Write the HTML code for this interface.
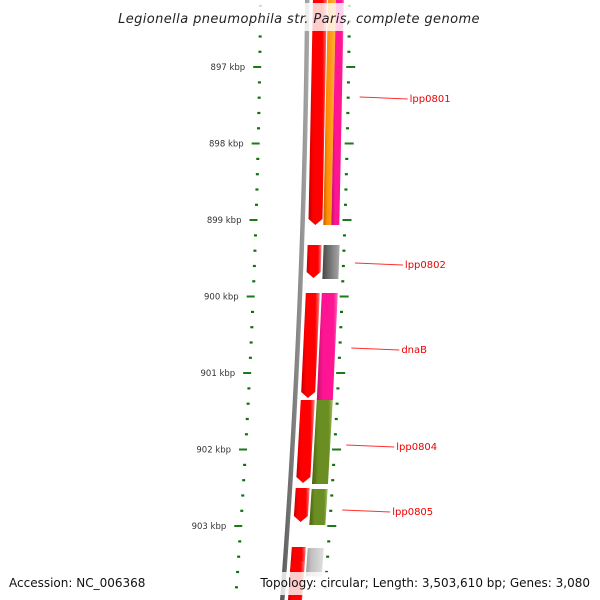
<!DOCTYPE html>
<html><head><meta charset="utf-8"><style>
html,body{margin:0;padding:0;background:#fff;}
svg{display:block;font-family:"DejaVu Sans","Liberation Sans",sans-serif;}
</style></head><body>
<svg id="map" width="600" height="600" viewBox="0 0 600 600" xmlns="http://www.w3.org/2000/svg">
<defs>
<linearGradient id="gRed" x1="0" x2="1" y1="0" y2="0"><stop offset="0" stop-color="#c00000"/><stop offset="0.25" stop-color="#ff0000"/><stop offset="0.75" stop-color="#ff0000"/><stop offset="1" stop-color="#ff8080"/></linearGradient>
<linearGradient id="gOrange" x1="0" x2="1"><stop offset="0" stop-color="#c06000"/><stop offset="0.3" stop-color="#ff8c00"/><stop offset="1" stop-color="#ffb040"/></linearGradient>
<linearGradient id="gPink" x1="0" x2="1"><stop offset="0" stop-color="#c0106a"/><stop offset="0.3" stop-color="#ff1493"/><stop offset="0.8" stop-color="#ff1493"/><stop offset="1" stop-color="#ff70c0"/></linearGradient>
<linearGradient id="gGray" x1="0" x2="1"><stop offset="0" stop-color="#444"/><stop offset="0.3" stop-color="#666"/><stop offset="1" stop-color="#aaa"/></linearGradient>
<linearGradient id="gLight" x1="0" x2="1"><stop offset="0" stop-color="#999"/><stop offset="0.3" stop-color="#c0c0c0"/><stop offset="1" stop-color="#e0e0e0"/></linearGradient>
<linearGradient id="gOlive" x1="0" x2="1"><stop offset="0" stop-color="#4a6010"/><stop offset="0.3" stop-color="#6b8e23"/><stop offset="0.8" stop-color="#6b8e23"/><stop offset="1" stop-color="#a0c060"/></linearGradient>
<linearGradient id="gBack" x1="0" x2="1"><stop offset="0" stop-color="#555"/><stop offset="0.5" stop-color="#808080"/><stop offset="1" stop-color="#aaa"/></linearGradient>
</defs>
<g id="layer"></g>
<rect x="115" y="3" width="370" height="28" fill="#fff" opacity="0.8"/>
<text x="299" y="23" text-anchor="middle" font-size="13" font-style="italic" fill="#222" letter-spacing="0.4">Legionella pneumophila str. Paris, complete genome</text>
<rect x="255" y="572" width="345" height="23" fill="#fff" opacity="0.8"/>
<text x="9" y="587" font-size="12" fill="#111">Accession: NC_006368</text>
<text x="590" y="587" text-anchor="end" font-size="12" fill="#111">Topology: circular; Length: 3,503,610 bp; Genes: 3,080</text>
</svg>
<script>
// data (kbp)
const tickKbp = [897, 898, 899, 900, 901, 902, 903];
const tickLabels = ["897 kbp", "898 kbp", "899 kbp", "900 kbp", "901 kbp", "902 kbp", "903 kbp"];
const geneStarts = [896.0, 899.327, 899.954, 901.353, 902.503, 903.275, 903.46, 896.0, 896.0, 899.327, 899.954, 901.353, 902.516, 903.288];
const geneEnds   = [899.065, 899.758, 901.327, 902.438, 902.948, 903.66, 904.0, 899.065, 899.065, 899.771, 901.353, 902.451, 902.987, 903.66];
const geneTracks = ["inner","inner","inner","inner","inner","inner","inner","outerL","outerR","outer","outer","outer","outer","outer"];
const geneColors = ["gRed","gRed","gRed","gRed","gRed","gRed","gRed","gOrange","gPink","gGray","gPink","gOlive","gOlive","gLight"];
const geneArrow  = [true,true,true,true,true,false,false,false,false,false,false,false,false,false];
const labelNames = ["lpp0801", "lpp0802", "dnaB", "lpp0804", "lpp0805"];
const labelKbp   = [897.405, 899.575, 900.686, 901.954, 902.804];

const svg = document.getElementById('layer');
const NS = 'http://www.w3.org/2000/svg';
const yScale = k => 67 + (k - 897) * 76.5;
const bend = y => -0.0083 * y - 5.56e-5 * y * y;
const trackX = {inner:[313,327], outer:[329,345], outerL:[328,336], outerR:[336,344]};
function mk(tag, attrs){const e=document.createElementNS(NS,tag);for(const k in attrs)e.setAttribute(k,attrs[k]);return e;}

// backbone
(function(){
  let pts=[];
  for(let y=-5;y<=605;y+=10) pts.push((305+bend(y))+','+y);
  for(let y=605;y>=-5;y-=10) pts.push((309.5+bend(y))+','+y);
  const p=mk('polygon',{points:pts.join(' '),fill:'url(#gBack)'});
  
  
  svg.appendChild(p);
})();

// ticks
const minorStep = 0.2;
for (let k = 896.0; k <= 904.0001; k += minorStep) {
  const y = yScale(k);
  if (y < -3 || y > 603) continue;
  const major = Math.abs(k - Math.round(k)) < 0.01;
  const d = bend(y);
  const lt = mk('rect', major ? {x:254+d, y:y-1, width:8, height:2, fill:'#1a7a1a'} : {x:259+d, y:y-1, width:3, height:2.2, fill:'#107010'});
  
  
  svg.appendChild(lt);
  const rt = mk('rect', major ? {x:347+d, y:y-1, width:9, height:2, fill:'#1a7a1a'} : {x:348+d, y:y-1, width:3, height:2.2, fill:'#107010'});
  
  
  svg.appendChild(rt);
}
tickKbp.forEach((k, i) => {
  const y = yScale(k);
  const t = mk('text', {x:246+bend(y), y:y+3, 'text-anchor':'end', 'font-size':'8.5', fill:'#333'});
  t.textContent = tickLabels[i];
  
  
  svg.appendChild(t);
});

// genes
geneStarts.forEach((s, i) => {
  const e = geneEnds[i];
  const y1 = Math.max(yScale(s), -5), y2 = Math.min(yScale(e), 605);
  const [a, b] = trackX[geneTracks[i]];
  let pts;
  if (geneArrow[i]) {
    const yb = y2 - 6, m = (a + b) / 2;
    pts = [[a+bend(y1),y1],[b+bend(y1),y1],[b+bend(yb),yb],[m+bend(y2),y2],[a+bend(yb),yb]];
  } else {
    pts = [[a+bend(y1),y1],[b+bend(y1),y1],[b+bend(y2),y2],[a+bend(y2),y2]];
  }
  const p = mk('polygon', {points: pts.map(q => q.join(',')).join(' '), fill: 'url(#' + geneColors[i] + ')'});
  
  
  svg.appendChild(p);
});

// labels
labelNames.forEach((n, i) => {
  const y = yScale(labelKbp[i]);
  const d = bend(y);
  const l = mk('line', {x1:361+d, y1:y-1, x2:409+d, y2:y+1, stroke:'#ff3030', 'stroke-width':'1'});
  
  
  svg.appendChild(l);
  const t = mk('text', {x:411+d, y:y+4, 'font-size':'10', fill:'#ee0000'});
  t.textContent = n;
  
  
  svg.appendChild(t);
});
</script>
</body></html>
